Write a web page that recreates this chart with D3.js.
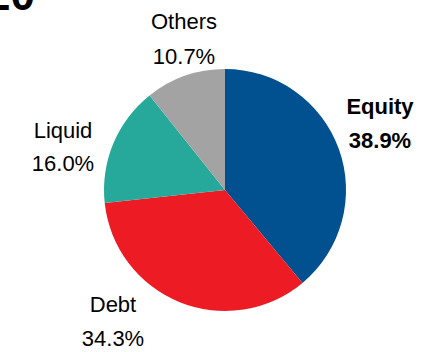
<!DOCTYPE html>
<html>
<head>
<meta charset="utf-8">
<script src="https://cdn.jsdelivr.net/npm/d3@7"></script>
<style>
html,body{margin:0;padding:0;background:#fff;}
svg{display:block;}
text{font-family:"Liberation Sans",Arial,sans-serif;fill:#000;}
</style>
</head>
<body>
<svg id="chart" width="435" height="352"></svg>
<script>
const categories = ["Equity", "Debt", "Liquid", "Others"];
const values = [38.9, 34.3, 16.0, 10.7];
const labels = ["38.9%", "34.3%", "16.0%", "10.7%"];
const colors = ["#01508f", "#ed1c24", "#26a99a", "#a3a3a3"];
const titleText = "20";

const svg = d3.select("#chart");
const cx = 225, cy = 190, r = 121;

// clipped heading fragment at top-left
svg.append("text")
  .attr("x", -14).attr("y", 10)
  .style("font-weight", "bold")
  .style("font-size", "44px")
  .text(titleText);

const pie = d3.pie().sort(null).value(d => d)(values);
const arc = d3.arc().innerRadius(0).outerRadius(r);
const color = d3.scaleOrdinal().domain(categories).range(colors);

const g = svg.append("g").attr("transform", `translate(${cx},${cy})`);
g.selectAll("path").data(pie).enter().append("path")
  .attr("d", arc)
  .attr("fill", (d, i) => color(categories[i]));

const labelPos = [
  {x: 380, y1: 114, y2: 148, bold: true},
  {x: 113, y1: 312, y2: 346, bold: false},
  {x: 63, y1: 138, y2: 171, bold: false},
  {x: 184, y1: 29, y2: 64, bold: false}
];
categories.forEach((c, i) => {
  const p = labelPos[i];
  const t = svg.append("g");
  const fs = "22px";
  t.append("text").attr("x", p.x).attr("y", p.y1)
    .attr("text-anchor", "middle")
    .style("font-size", fs)
    .style("font-weight", p.bold ? "bold" : "normal")
    .text(c);
  t.append("text").attr("x", p.x).attr("y", p.y2)
    .attr("text-anchor", "middle")
    .style("font-size", fs)
    .style("font-weight", p.bold ? "bold" : "normal")
    .text(labels[i]);
});
</script>
</body>
</html>
